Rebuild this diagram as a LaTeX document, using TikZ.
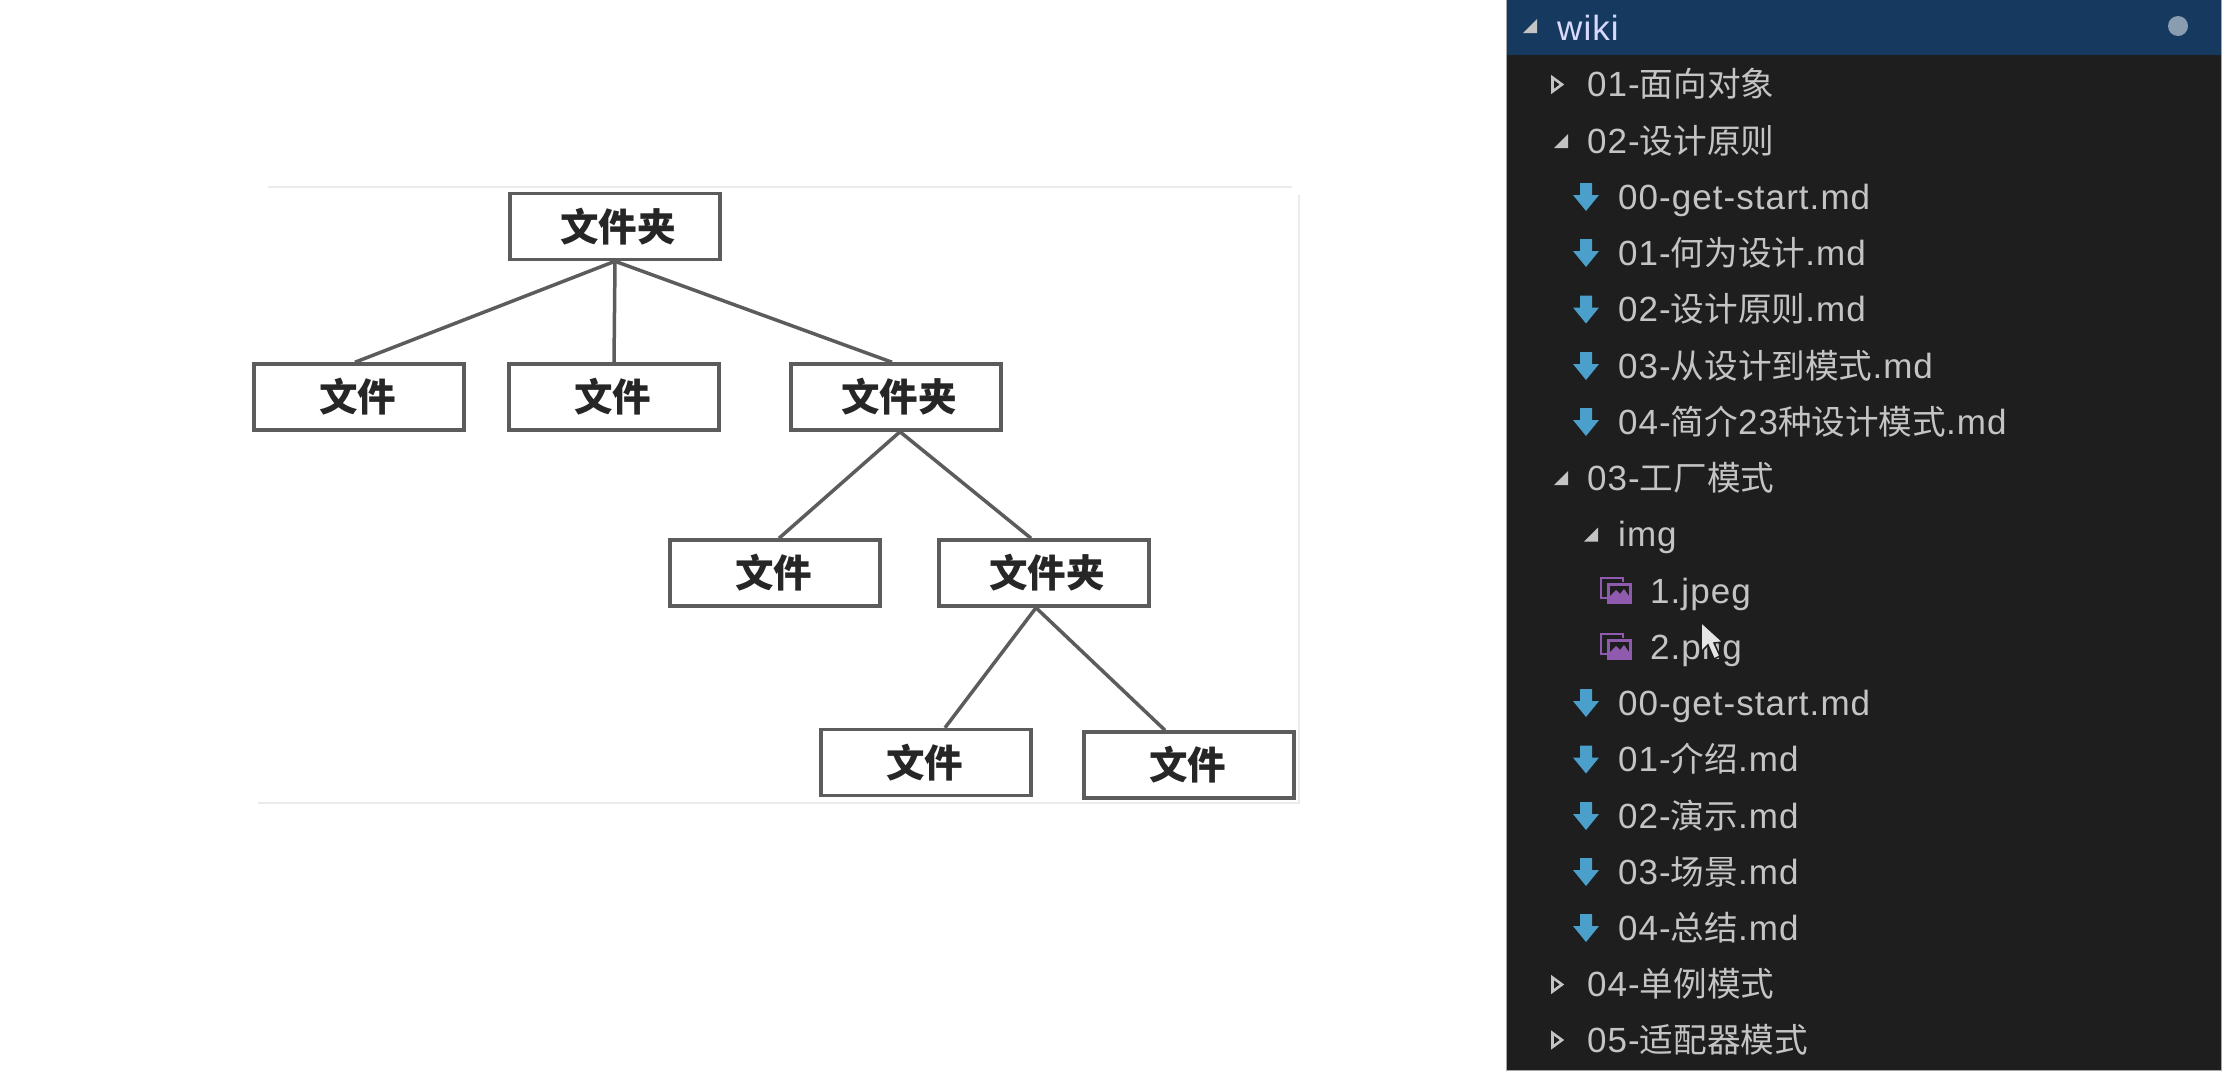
\documentclass[tikz,border=0pt]{standalone}
\usepackage{fontspec}
\usepackage{xcolor}
\usepackage{tikz}
\setmainfont[LetterSpace=3]{Liberation Sans}
\newfontfamily\cjk{Noto Sans CJK SC}
\newfontfamily\cjkrow[Scale=0.96]{Noto Sans CJK SC}
\definecolor{panelbg}{HTML}{1E1E1E}
\definecolor{headbg}{HTML}{163A5F}
\definecolor{rowtext}{HTML}{C4C4C4}
\definecolor{mdblue}{HTML}{4A9FCB}
\definecolor{imgpurple}{HTML}{8E5BAE}
\definecolor{treeline}{HTML}{5C5C5C}
\tikzset{
  pics/mdicon/.style = {code = {
    \fill[mdblue] (-6,-14) -- (6,-14) -- (6,-2) -- (13,-2) -- (0,14) -- (-13,-2) -- (-6,-2) -- cycle;
  }},
  pics/imgicon/.style = {code = {
    \draw[imgpurple, line width=2.2] (-8,7) -- (-15,7) -- (-15,-13) -- (7,-13) -- (7,-9);
    \fill[imgpurple] (-9,-8) rectangle (16,13);
    \fill[panelbg] (-6,-5) rectangle (13,5);
    \fill[imgpurple] (-6,5) -- (0,-1) -- (4,3) -- (8,-2) -- (13,5) -- cycle;
  }},
  pics/openarrow/.style = {code = {
    \fill[rowtext] (7,-7) -- (7,7) -- (-7,7) -- cycle;
  }},
  pics/closedarrow/.style = {code = {
    \draw[rowtext, line width=2.6] (-4.5,-7) -- (5,0) -- (-4.5,7) -- cycle;
  }}
}
\begin{document}
\begin{tikzpicture}[x=1pt, y=-1pt,
      fileblock/.style = {
        rectangle, draw=treeline, line width=3.5, fill=white, inner sep=0,
        minimum width=210, minimum height=66, text=black!85,
        font=\cjk\bfseries\fontsize{38.5}{40}\selectfont,
        execute at end node=\hspace{3pt} },
      dirblock/.style = {
        fileblock, execute at end node={}, execute at begin node=\hspace{9pt} },
      treeedge/.style = { draw=treeline, line width=3.5 },
      rowlabel/.style = {
        anchor=base west, inner sep=0, text=rowtext,
        font=\fontsize{35}{40}\selectfont }]
    \useasboundingbox (0,0) rectangle (2238,1072);
    \fill[white] (0,0) rectangle (2238,1072);
    % faint frame of the pasted picture
    \draw[black!8, line width=1.5] (268,187) -- (1292,187);
    \draw[black!8, line width=1.5] (1299,195) -- (1299,803) -- (258,803);
    % tree
    \node [dirblock] (rootdir) at (615,226.5) {文件夹};
    \node [fileblock] (filea) at (359,397) {文件};
    \node [fileblock] (fileb) at (614,397) {文件};
    \node [dirblock] (subdir) at (896,397) {文件夹};
    \node [fileblock] (filec) at (775,573) {文件};
    \node [dirblock] (subsubdir) at (1044,573) {文件夹};
    \node [fileblock] (filed) at (926,762.5) {文件};
    \node [fileblock] (filee) at (1189,765) {文件};
    % connect the tree
    \draw[treeedge] (rootdir.south) -- ([xshift=-4]filea.north);
    \draw[treeedge] (rootdir.south) -- (fileb.north);
    \draw[treeedge] (rootdir.south) -- ([xshift=-4]subdir.north);
    \draw[treeedge] ([xshift=4]subdir.south) -- ([xshift=4]filec.north);
    \draw[treeedge] ([xshift=4]subdir.south) -- ([xshift=-13]subsubdir.north);
    \draw[treeedge] ([xshift=-8]subsubdir.south) -- ([xshift=19]filed.north);
    \draw[treeedge] ([xshift=-8]subsubdir.south) -- ([xshift=-24]filee.north);
    % side panel
    \fill[panelbg] (1506,0) rectangle (2221,1070);
    \fill[headbg] (1506,0) rectangle (2221,55);
    \draw[black!35, line width=1] (1506,0) -- (1506,1070) -- (2221,1070) -- (2221,0);
    \node [circle, fill=headbg!50!white, inner sep=0, minimum size=20] (dot) at (2178,26) {};
    \pic at (1530,26) {openarrow};
    \node [rowlabel, text=white!85!blue] (wiki) at (1557,40) {wiki};
    \pic at (1557,84.5) {closedarrow};
    \node [rowlabel] (rowa) at (1587,96.5) {01-{\cjkrow 面向对象}};
    \pic at (1561,141) {openarrow};
    \node [rowlabel] (rowb) at (1587,153) {02-{\cjkrow 设计原则}};
    \pic at (1586,197) {mdicon};
    \node [rowlabel] (rowc) at (1618,209) {00-get-start.md};
    \pic at (1586,253) {mdicon};
    \node [rowlabel] (rowd) at (1618,265) {01-{\cjkrow 何为设计}.md};
    \pic at (1586,309.5) {mdicon};
    \node [rowlabel] (rowe) at (1618,321.5) {02-{\cjkrow 设计原则}.md};
    \pic at (1586,366) {mdicon};
    \node [rowlabel] (rowf) at (1618,378) {03-{\cjkrow 从设计到模式}.md};
    \pic at (1586,422) {mdicon};
    \node [rowlabel] (rowg) at (1618,434) {04-{\cjkrow 简介}23{\cjkrow 种设计模式}.md};
    \pic at (1561,478) {openarrow};
    \node [rowlabel] (rowh) at (1587,490) {03-{\cjkrow 工厂模式}};
    \pic at (1591,534.5) {openarrow};
    \node [rowlabel] (rowi) at (1618,546.5) {img};
    \pic at (1616,591) {imgicon};
    \node [rowlabel] (rowj) at (1650,603) {1.jpeg};
    \pic at (1616,647) {imgicon};
    \node [rowlabel] (rowk) at (1650,659) {2.png};
    \pic at (1586,703) {mdicon};
    \node [rowlabel] (rowl) at (1618,715) {00-get-start.md};
    \pic at (1586,759.5) {mdicon};
    \node [rowlabel] (rowm) at (1618,771.5) {01-{\cjkrow 介绍}.md};
    \pic at (1586,816) {mdicon};
    \node [rowlabel] (rown) at (1618,828) {02-{\cjkrow 演示}.md};
    \pic at (1586,872) {mdicon};
    \node [rowlabel] (rowo) at (1618,884) {03-{\cjkrow 场景}.md};
    \pic at (1586,928) {mdicon};
    \node [rowlabel] (rowp) at (1618,940) {04-{\cjkrow 总结}.md};
    \pic at (1557,984.5) {closedarrow};
    \node [rowlabel] (rowq) at (1587,996.5) {04-{\cjkrow 单例模式}};
    \pic at (1557,1040) {closedarrow};
    \node [rowlabel] (rowr) at (1587,1052) {05-{\cjkrow 适配器模式}};
    % mouse cursor
    \draw[panelbg, fill=white!90!black, line width=1.5] (1701,622) -- (1701,652) -- (1708,645) -- (1714,659) -- (1720,656) -- (1714,643) -- (1723,642) -- cycle;
  \end{tikzpicture}
\end{document}
